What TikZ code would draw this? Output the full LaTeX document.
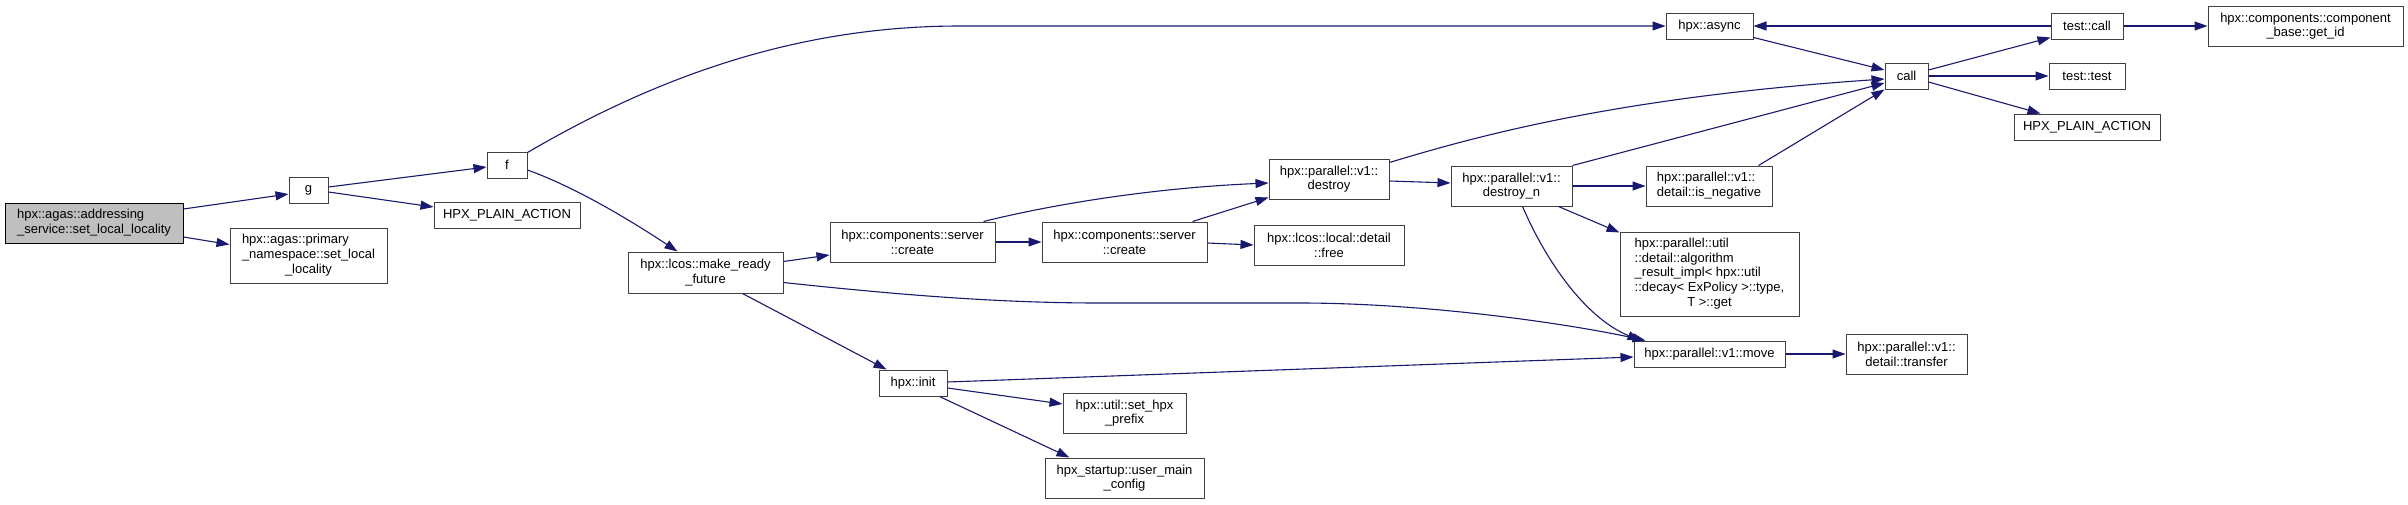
\documentclass[tikz,border=0pt]{standalone}
\usepackage{fontspec}
\setmainfont{Liberation Sans}
\usetikzlibrary{arrows.meta}
\definecolor{edgeblue}{RGB}{25,25,112}
\definecolor{boxgray}{RGB}{191,191,191}
\begin{document}
\begin{tikzpicture}[x=1pt,y=-1pt,
  box/.style={draw=black!75, line width=1pt, fill=white, inner sep=0pt, align=center,
              font=\fontsize{13}{14.7}\selectfont},
  edge/.style={draw=edgeblue, line width=1.1pt, -{Triangle[length=13pt,width=9pt]}}]
\fill[white] (0,0) rectangle (2408,504);
\useasboundingbox (0,0) rectangle (2408,504);

% nodes
\node[box, fill=boxgray, draw=black, minimum width=178pt, minimum height=40pt] (main) at (94,223)
  {\begin{tabular}{@{}l@{}}hpx::agas::addressing\\\_service::set\_local\_locality\end{tabular}};
\node[box, minimum width=39pt, minimum height=26pt] (g) at (308.5,190) {g};
\node[box, minimum width=157pt, minimum height=55pt] (primary) at (308.5,255.5)
  {\begin{tabular}{@{}l@{}}hpx::agas::primary\\\_namespace::set\_local\\\multicolumn{1}{@{}c@{}}{\_locality}\end{tabular}};
\node[box, minimum width=40pt, minimum height=26pt] (f) at (507,165) {f};
\node[box, minimum width=146pt, minimum height=26pt] (hpa1) at (507,215) {HPX\_PLAIN\_ACTION};
\node[box, minimum width=155pt, minimum height=41pt] (mrf) at (705.5,272.5) {hpx::lcos::make\_ready\\\_future};
\node[box, minimum width=165pt, minimum height=40pt] (create1) at (912.5,242) {hpx::components::server\\::create};
\node[box, minimum width=68pt, minimum height=26pt] (init) at (913,383) {hpx::init};
\node[box, minimum width=165pt, minimum height=40pt] (create2) at (1124.5,242) {hpx::components::server\\::create};
\node[box, minimum width=123pt, minimum height=40pt] (prefix) at (1124.5,413) {hpx::util::set\_hpx\\\_prefix};
\node[box, minimum width=159pt, minimum height=40pt] (umc) at (1124.5,478) {hpx\_startup::user\_main\\\_config};
\node[box, minimum width=120pt, minimum height=40pt] (destroy) at (1329,179) {hpx::parallel::v1::\\destroy};
\node[box, minimum width=150pt, minimum height=40pt] (free) at (1329,245) {hpx::lcos::local::detail\\::free};
\node[box, minimum width=121pt, minimum height=40pt] (dn) at (1511.5,186) {hpx::parallel::v1::\\destroy\_n};
\node[box, minimum width=87pt, minimum height=26pt] (async) at (1709.5,26) {hpx::async};
\node[box, minimum width=126pt, minimum height=40pt] (isneg) at (1709,186)
  {\begin{tabular}{@{}l@{}}hpx::parallel::v1::\\detail::is\_negative\end{tabular}};
\node[box, minimum width=179pt, minimum height=84pt] (algo) at (1709.5,274)
  {\begin{tabular}{@{}l@{}}hpx::parallel::util\\::detail::algorithm\\\_result\_impl< hpx::util\\::decay< ExPolicy >::type,\\\multicolumn{1}{@{}c@{}}{T >::get}\end{tabular}};
\node[box, minimum width=151pt, minimum height=26pt] (move) at (1709.5,354) {hpx::parallel::v1::move};
\node[box, minimum width=43pt, minimum height=26pt] (call) at (1906.5,76) {call};
\node[box, minimum width=121pt, minimum height=40pt] (transfer) at (1906.5,354) {hpx::parallel::v1::\\detail::transfer};
\node[box, minimum width=72pt, minimum height=26pt] (testcall) at (2087,26) {test::call};
\node[box, minimum width=76pt, minimum height=26pt] (testtest) at (2087,76) {test::test};
\node[box, minimum width=146pt, minimum height=26pt] (hpa2) at (2087,127) {HPX\_PLAIN\_ACTION};
\node[box, minimum width=195pt, minimum height=40pt] (getid) at (2305.5,26) {hpx::components::component\\\_base::get\_id};

% edges
\draw[edge] ([yshift=14pt]main.east) -- ([yshift=-4pt]g.west);
\draw[edge] ([yshift=-14pt]main.east) -- ([yshift=11pt]primary.west);
\draw[edge] ([yshift=3pt]g.east) -- ([yshift=-2pt]f.west);
\draw[edge] ([yshift=-2pt]g.east) -- ([yshift=8pt]hpa1.west);
\draw[edge] ([yshift=-1pt]f.north east) .. controls (660,75) and (800,26) .. (960,26) -- (async.west);
\draw[edge] ([yshift=-5pt]f.east) .. controls (575,187) and (630,220) .. ([xshift=-28pt]mrf.north);
\draw[edge] ([yshift=11pt]mrf.east) -- ([yshift=-13pt]create1.west);
\draw[edge] ([yshift=-10pt]mrf.east) .. controls (900,295) and (1000,303) .. (1100,303) -- (1300,303)
  .. controls (1420,303) and (1560,322) .. ([xshift=12pt]move.north west);
\draw[edge] ([xshift=37pt]mrf.south) -- ([xshift=8pt]init.north west);
\draw[edge] ([xshift=-12pt]create1.north east) .. controls (1050,205) and (1150,188) .. ([yshift=-4pt]destroy.west);
\draw[edge] (create1.east) -- (create2.west);
\draw[edge] ([xshift=-15pt]create2.north east) -- ([yshift=2pt]destroy.south west);
\draw[edge] ([yshift=-1pt]create2.east) -- (free.west);
\draw[edge] ([yshift=-4pt]destroy.north east) .. controls (1480,135) and (1620,97) .. ([yshift=-3pt]call.west);
\draw[edge] ([yshift=-2pt]destroy.east) -- ([yshift=3pt]dn.west);
\draw[edge] (dn.north east) -- ([yshift=-7pt]call.west);
\draw[edge] (dn.east) -- (isneg.west);
\draw[edge] ([xshift=-14pt]dn.south east) -- ([yshift=-1pt]algo.north west);
\draw[edge] ([xshift=11pt]dn.south) .. controls (1550,270) and (1590,320) .. ([xshift=7pt]move.north west);
\draw[edge] ([xshift=-14pt]isneg.north east) -- (call.south west);
\draw[edge] ([yshift=1pt]init.east) -- ([yshift=-3pt]move.west);
\draw[edge] ([yshift=-5pt]init.east) -- ([yshift=9pt]prefix.west);
\draw[edge] ([xshift=-8pt]init.south east) -- ([xshift=25pt]umc.north west);
\draw[edge] (move.east) -- (transfer.west);
\draw[edge] ([yshift=2pt]async.south east) -- ([yshift=6pt]call.west);
\draw[edge] (testcall.west) -- (async.east);
\draw[edge] ([yshift=6pt]call.east) -- ([yshift=2pt]testcall.south west);
\draw[edge] (call.east) -- (testtest.west);
\draw[edge] ([yshift=-6pt]call.east) -- ([xshift=27pt]hpa2.north west);
\draw[edge] (testcall.east) -- (getid.west);
\end{tikzpicture}
\end{document}
